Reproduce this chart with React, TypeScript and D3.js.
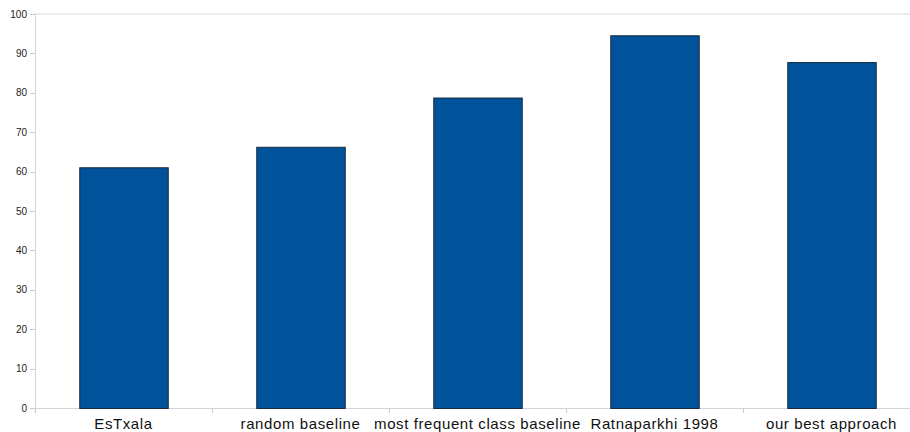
import React from "react";
import * as d3 from "d3";

const categories = ["EsTxala", "random baseline", "most frequent class baseline", "Ratnaparkhi 1998", "our best approach"];
const values = [61.1, 66.3, 78.8, 94.6, 87.8];
const yTicks = [0, 10, 20, 30, 40, 50, 60, 70, 80, 90, 100];

const W = 910;
const H = 432;
const left = 35;
const right = 920;
const top = 14;
const bottom = 408;

export default function App() {
  const x = d3.scaleBand<string>().domain(categories).range([left, right]).paddingInner(0.5).paddingOuter(0.25);
  const xb = d3.scaleBand<string>().domain(categories).range([left, right]);
  const y = d3.scaleLinear().domain([0, 100]).range([bottom, top]);
  const font = "'Liberation Sans', Arial, Helvetica, sans-serif";
  return (
    <div style={{ position: "absolute", left: 0, top: 0 }}>
      <svg width={W} height={H} style={{ display: "block", background: "#fff" }}>
        <line x1={left} x2={W} y1={y(100)} y2={y(100)} stroke="#d9d9d9" strokeWidth={1} />
        <line x1={left + 0.5} x2={left + 0.5} y1={top} y2={bottom + 5} stroke="#d4d4d4" strokeWidth={1} />
        {yTicks.map((t) => (
          <g key={t}>
            <line x1={left - 5} x2={left} y1={Math.round(y(t)) + 0.5} y2={Math.round(y(t)) + 0.5} stroke="#cccccc" />
            <text x={27} y={y(t) + 3.5} textAnchor="end" fontFamily={font} fontSize={10} fill="#222">
              {t}
            </text>
          </g>
        ))}
        <line x1={left} x2={W} y1={bottom + 0.5} y2={bottom + 0.5} stroke="#d4d4d4" strokeWidth={1} />
        {categories.map((c) => (
          <line key={c} x1={Math.round(xb(c)!) + 0.5} x2={Math.round(xb(c)!) + 0.5} y1={bottom} y2={bottom + 5} stroke="#cccccc" />
        ))}
        {categories.map((c, i) => (
          <rect
            key={c}
            x={x(c)! + 0.5}
            y={y(values[i]) + 0.5}
            width={x.bandwidth()}
            height={bottom - y(values[i])}
            fill="#00539b"
            stroke="#1c2b3f"
            strokeWidth={1}
          />
        ))}
        {categories.map((c) => (
          <text
            key={c}
            x={xb(c)! + xb.bandwidth() / 2}
            y={429}
            textAnchor="middle"
            fontFamily={font}
            fontSize={15}
            letterSpacing={0.6}
            fill="#111"
          >
            {c}
          </text>
        ))}
      </svg>
    </div>
  );
}
